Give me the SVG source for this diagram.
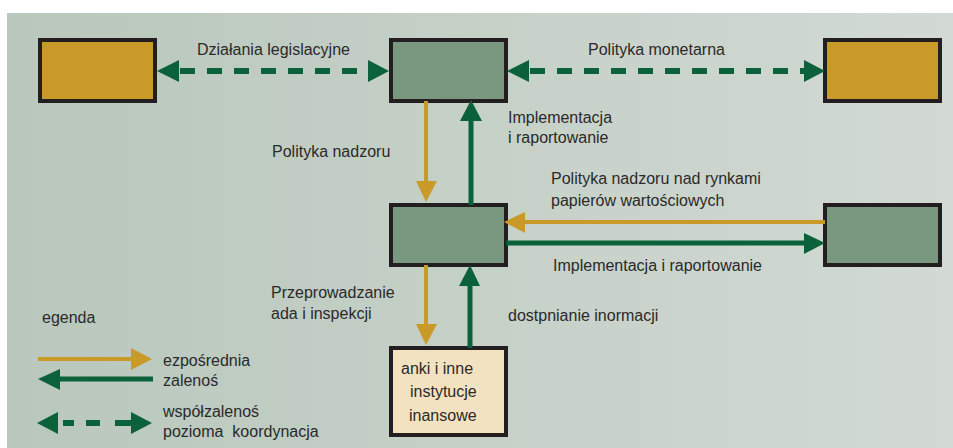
<svg xmlns="http://www.w3.org/2000/svg" width="953" height="448" viewBox="0 0 953 448">
<defs>
<linearGradient id="bg" x1="0" y1="0" x2="1" y2="0">
<stop offset="0" stop-color="#b9c7bc"/>
<stop offset="1" stop-color="#d2dad3"/>
</linearGradient>
<style>
.box{stroke:#231f20;stroke-width:4}
.gold{fill:#c99a28}
.green{fill:#7a977f}
.bank{fill:#f2e2c0}
.t{font-family:"Liberation Sans",Arial,sans-serif;font-size:16px;fill:#2a2a2a}
.gl{stroke:#c99a28;stroke-width:4;fill:none}
.dl{stroke:#0b6139;stroke-width:5;fill:none}
.dd{stroke:#0b6139;stroke-width:6;fill:none;stroke-dasharray:15 12}
.gh{fill:#c99a28}
.dh{fill:#0b6139}
</style>
</defs>
<rect x="0" y="0" width="953" height="448" fill="#ffffff"/>
<rect x="7" y="13" width="946" height="435" fill="url(#bg)"/>

<g id="node-top-left"><rect class="box gold" x="40" y="40" width="115" height="61"/></g>
<g id="node-top-center"><rect class="box green" x="391" y="40" width="115" height="61"/></g>
<g id="node-top-right"><rect class="box gold" x="825" y="40" width="115" height="61"/></g>
<g id="node-mid-center"><rect class="box green" x="391" y="205" width="115" height="60"/></g>
<g id="node-mid-right"><rect class="box green" x="825" y="205" width="115" height="60"/></g>
<g id="node-bank">
<rect class="box bank" x="391" y="348" width="115" height="87"/>
<text class="t" x="401" y="374">anki i inne</text>
<text class="t" x="410" y="397">instytucje</text>
<text class="t" x="409" y="421">inansowe</text>
</g>

<g id="connectors">
<!-- top left dashed -->
<line class="dd" x1="180" y1="71" x2="370" y2="71"/>
<polygon class="dh" points="157,71 179,60 179,82"/>
<polygon class="dh" points="389,71 368,60 368,82"/>
<!-- top right dashed -->
<line class="dd" x1="530" y1="71" x2="804" y2="71"/>
<polygon class="dh" points="507,71 529,60 529,82"/>
<polygon class="dh" points="825,71 804,60 804,82"/>
<!-- vertical top -->
<line class="gl" x1="426" y1="101" x2="426" y2="183"/>
<polygon class="gh" points="426,202 416,181 437,181"/>
<line class="dl" x1="471" y1="205" x2="471" y2="118"/>
<polygon class="dh" points="471,100 460,121 482,121"/>
<!-- horizontal middle -->
<line class="gl" x1="825" y1="222" x2="522" y2="222"/>
<polygon class="gh" points="504,222 525,212 525,233"/>
<line class="dl" x1="506" y1="243" x2="808" y2="243"/>
<polygon class="dh" points="825,243 804,233 804,254"/>
<!-- vertical bottom -->
<line class="gl" x1="426" y1="265" x2="426" y2="327"/>
<polygon class="gh" points="426,345 416,324 437,324"/>
<line class="dl" x1="470" y1="348" x2="470" y2="282"/>
<polygon class="dh" points="470,265 459,286 480,286"/>
</g>

<g id="labels">
<text class="t" x="197" y="55">Działania legislacyjne</text>
<text class="t" x="588" y="55">Polityka monetarna</text>
<text class="t" x="508" y="123">Implementacja</text>
<text class="t" x="508" y="143">i raportowanie</text>
<text class="t" x="272" y="157">Polityka nadzoru</text>
<text class="t" x="551" y="184">Polityka nadzoru nad rynkami</text>
<text class="t" x="551" y="206">papierów wartościowych</text>
<text class="t" x="553" y="271">Implementacja i raportowanie</text>
<text class="t" x="271" y="298">Przeprowadzanie</text>
<text class="t" x="271" y="319">ada i inspekcji</text>
<text class="t" x="508" y="321">dostpnianie inormacji</text>
</g>

<g id="legend">
<text class="t" x="42" y="323">egenda</text>
<line class="gl" x1="38" y1="359" x2="133" y2="359"/>
<polygon class="gh" points="152,359 131,348 131,370"/>
<line class="dl" x1="58" y1="379" x2="153" y2="379"/>
<polygon class="dh" points="38,379 60,369 60,390"/>
<line stroke="#0b6139" stroke-width="6" x1="63" y1="423" x2="74" y2="423"/>
<line stroke="#0b6139" stroke-width="6" x1="86" y1="423" x2="100" y2="423"/>
<line stroke="#0b6139" stroke-width="6" x1="115" y1="423" x2="134" y2="423"/>
<polygon class="dh" points="37,423 58,412 58,434"/>
<polygon class="dh" points="152,423 131,412 131,434"/>
<text class="t" x="163" y="366">ezpośrednia</text>
<text class="t" x="163" y="386">zalenoś</text>
<text class="t" x="163" y="417">współzalenoś</text>
<text class="t" x="163" y="437" xml:space="preserve">pozioma  koordynacja</text>
</g>
</svg>
